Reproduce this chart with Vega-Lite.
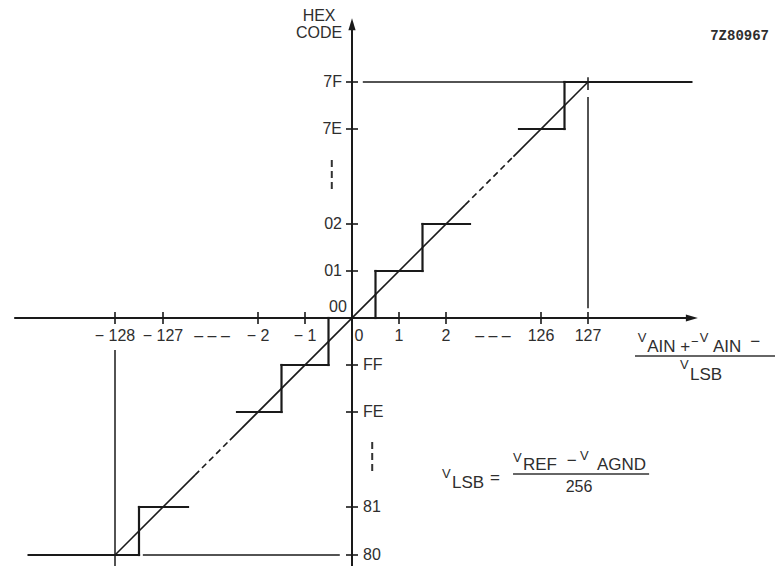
{
  "$schema": "https://vega.github.io/schema/vega-lite/v6.json",
  "width": 775,
  "height": 566,
  "padding": 0,
  "autosize": {"type": "none"},
  "background": "white",
  "config": {
    "view": {"stroke": null},
    "text": {"font": "Liberation Sans", "fontSize": 16, "fill": "#2e2e2e"}
  },
  "datasets": {
    "segs": [
      {"part": "axis", "x": -130.1, "y": 0, "x2": 129.2, "y2": 0},
      {"part": "axis", "x": 0, "y": -128.3, "x2": 0, "y2": 128.2},
      {"part": "ref", "x": 0.23, "y": 127, "x2": 129.2, "y2": 127},
      {"part": "ref", "x": 127, "y": 0.21, "x2": 127, "y2": 126.68},
      {"part": "ref", "x": 127, "y": 126.83, "x2": 127, "y2": 127.1},
      {"part": "ref", "x": -128, "y": -0.68, "x2": -128, "y2": -128.3},
      {"part": "ref", "x": -127.42, "y": -128, "x2": -0.26, "y2": -128},
      {"part": "step", "x": -129.8, "y": -128, "x2": -127.5, "y2": -128},
      {"part": "step", "x": -127.5, "y": -128, "x2": -127.5, "y2": -127},
      {"part": "step", "x": -127.5, "y": -127, "x2": -94.1, "y2": -127},
      {"part": "step", "x": -29.6, "y": -2, "x2": -1.5, "y2": -2},
      {"part": "step", "x": -1.5, "y": -2, "x2": -1.5, "y2": -1},
      {"part": "step", "x": -1.5, "y": -1, "x2": -0.5, "y2": -1},
      {"part": "step", "x": -0.5, "y": -1, "x2": -0.5, "y2": 0},
      {"part": "step", "x": -0.5, "y": 0, "x2": 0.5, "y2": 0},
      {"part": "step", "x": 0.5, "y": 0, "x2": 0.5, "y2": 1},
      {"part": "step", "x": 0.5, "y": 1, "x2": 1.5, "y2": 1},
      {"part": "step", "x": 1.5, "y": 1, "x2": 1.5, "y2": 2},
      {"part": "step", "x": 1.5, "y": 2, "x2": 33.3, "y2": 2},
      {"part": "step", "x": 97.3, "y": 126, "x2": 126.5, "y2": 126},
      {"part": "step", "x": 126.5, "y": 126, "x2": 126.5, "y2": 127},
      {"part": "step", "x": 126.5, "y": 127, "x2": 129.2, "y2": 127},
      {"part": "diag", "x": -128, "y": -128, "x2": -85, "y2": -85},
      {"part": "diagdash", "x": -85, "y": -85, "x2": -39, "y2": -39},
      {"part": "diag", "x": -39, "y": -39, "x2": 27, "y2": 27},
      {"part": "diagdash", "x": 27, "y": 27, "x2": 90, "y2": 90},
      {"part": "diag", "x": 90, "y": 90, "x2": 127, "y2": 127},
      {"part": "dots", "x": -0.43, "y": 85.5, "x2": -0.43, "y2": 43.8},
      {"part": "dots", "x": 0.43, "y": -41.5, "x2": 0.43, "y2": -84.9},
      {"part": "bar", "x": 128.0, "y": -0.81, "x2": 130.98, "y2": -0.81},
      {"part": "bar", "x": 89.5, "y": -83.6, "x2": 128.3, "y2": -83.6}
    ],
    "xticks": [
      {"x": -128, "y": 0}, {"x": -127, "y": 0}, {"x": -2, "y": 0}, {"x": -1, "y": 0},
      {"x": 1, "y": 0}, {"x": 2, "y": 0}, {"x": 126, "y": 0}, {"x": 127, "y": 0}
    ],
    "yticks": [
      {"x": 0, "y": 127}, {"x": 0, "y": 126}, {"x": 0, "y": 2}, {"x": 0, "y": 1},
      {"x": 0, "y": -1}, {"x": 0, "y": -2}, {"x": 0, "y": -127}, {"x": 0, "y": -128}
    ],
    "arrows": [
      {"x": 129.21, "y": 0, "dir": "right"},
      {"x": 0, "y": 128.23, "dir": "up"}
    ],
    "xlabels": [
      {"x": -128, "y": 0, "t": "− 128"},
      {"x": -127, "y": 0, "t": "− 127"},
      {"x": -62.5, "y": 0, "t": "– – –"},
      {"x": -2, "y": 0, "t": "− 2"},
      {"x": -1, "y": 0, "t": "− 1"},
      {"x": 0.15, "y": 0, "t": "0"},
      {"x": 1, "y": 0, "t": "1"},
      {"x": 2, "y": 0, "t": "2"},
      {"x": 63.3, "y": 0, "t": "– – –"},
      {"x": 126, "y": 0, "t": "126"},
      {"x": 127, "y": 0, "t": "127"}
    ],
    "ylabelsL": [
      {"x": 0, "y": 127, "t": "7F"},
      {"x": 0, "y": 126, "t": "7E"},
      {"x": 0, "y": 2, "t": "02"},
      {"x": 0, "y": 1, "t": "01"}
    ],
    "ylabelsR": [
      {"x": 0, "y": -1, "t": "FF"},
      {"x": 0, "y": -2, "t": "FE"},
      {"x": 0, "y": -127, "t": "81"},
      {"x": 0, "y": -128, "t": "80"}
    ],
    "notes": [
      {"x": 128.26, "y": -0.72, "t": "AIN +"},
      {"x": 129.66, "y": -0.72, "t": "AIN"},
      {"x": 130.45, "y": -0.61, "t": "−"},
      {"x": 129.17, "y": -1.32, "t": "LSB"},
      {"x": 9.83, "y": -102, "t": "LSB"},
      {"x": 59.4, "y": -95.4, "t": "="},
      {"x": 102.5, "y": -78.3, "t": "REF"},
      {"x": 126.55, "y": -73.1, "t": "−"},
      {"x": 127.19, "y": -78.3, "t": "AGND"}
    ],
    "vees": [
      {"x": 128.06, "y": -0.51, "t": "V"},
      {"x": 129.19, "y": -0.6, "t": "−"},
      {"x": 129.38, "y": -0.51, "t": "V"},
      {"x": 128.96, "y": -1.085, "t": "V"},
      {"x": 1.915, "y": -88.84, "t": "V"},
      {"x": 89.5, "y": -67.8, "t": "V"},
      {"x": 126.83, "y": -65.2, "t": "V"}
    ],
    "centred": [
      {"x": 126.81, "y": -107.3, "t": "256"},
      {"x": -0.7, "y": 128.3, "t": "HEX"},
      {"x": -0.7, "y": 127.94, "t": "CODE"}
    ],
    "origin": [
      {"x": -0.11, "y": 0.23, "t": "00"}
    ],
    "ref": [
      {"x": 129.6, "y": 127.89, "t": "7Z80967"}
    ]
  },
  "encoding": {
    "x": {
      "field": "x", "type": "quantitative", "axis": null,
      "scale": {"type": "linear", "domain": [-128, -127, -2, -1, 0, 1, 2, 126, 127],
        "range": [115, 163, 258, 305, 352, 399, 446, 541, 588], "nice": false, "zero": false}
    },
    "y": {
      "field": "y", "type": "quantitative", "axis": null,
      "scale": {"type": "linear", "domain": [-128, -127, -2, -1, 0, 1, 2, 126, 127],
        "range": [555, 507, 412, 365, 318, 271, 224, 129, 82], "nice": false, "zero": false}
    }
  },
  "layer": [
    {
      "data": {"name": "segs"},
      "transform": [{"filter": "datum.part == 'axis'"}],
      "mark": {"type": "rule", "color": "#1a1a1a", "strokeWidth": 2},
      "encoding": {"x2": {"field": "x2"}, "y2": {"field": "y2"}}
    },
    {
      "data": {"name": "segs"},
      "transform": [{"filter": "datum.part == 'ref'"}],
      "mark": {"type": "rule", "color": "#1a1a1a", "strokeWidth": 1.5},
      "encoding": {"x2": {"field": "x2"}, "y2": {"field": "y2"}}
    },
    {
      "data": {"name": "segs"},
      "transform": [{"filter": "datum.part == 'step'"}],
      "mark": {"type": "rule", "color": "#1a1a1a", "strokeWidth": 2.2, "strokeCap": "square"},
      "encoding": {"x2": {"field": "x2"}, "y2": {"field": "y2"}}
    },
    {
      "data": {"name": "segs"},
      "transform": [{"filter": "datum.part == 'diag'"}],
      "mark": {"type": "rule", "color": "#1a1a1a", "strokeWidth": 1.6},
      "encoding": {"x2": {"field": "x2"}, "y2": {"field": "y2"}}
    },
    {
      "data": {"name": "segs"},
      "transform": [{"filter": "datum.part == 'diagdash'"}],
      "mark": {"type": "rule", "color": "#1a1a1a", "strokeWidth": 1.6, "strokeDash": [6, 4]},
      "encoding": {"x2": {"field": "x2"}, "y2": {"field": "y2"}}
    },
    {
      "data": {"name": "segs"},
      "transform": [{"filter": "datum.part == 'dots'"}],
      "mark": {"type": "rule", "color": "#333333", "strokeWidth": 2, "strokeDash": [7, 4]},
      "encoding": {"x2": {"field": "x2"}, "y2": {"field": "y2"}}
    },
    {
      "data": {"name": "segs"},
      "transform": [{"filter": "datum.part == 'bar'"}],
      "mark": {"type": "rule", "color": "#333333", "strokeWidth": 1.6},
      "encoding": {"x2": {"field": "x2"}, "y2": {"field": "y2"}}
    },
    {
      "data": {"name": "xticks"},
      "mark": {"type": "tick", "orient": "vertical", "size": 12, "thickness": 1.6, "color": "#1a1a1a", "opacity": 1}
    },
    {
      "data": {"name": "yticks"},
      "mark": {"type": "tick", "orient": "horizontal", "size": 12, "thickness": 1.6, "color": "#1a1a1a", "opacity": 1}
    },
    {
      "data": {"name": "arrows"},
      "mark": {"type": "point", "filled": true, "size": 144, "color": "#1a1a1a", "opacity": 1},
      "encoding": {
        "shape": {"field": "dir", "type": "nominal", "legend": null,
          "scale": {"domain": ["right", "up"], "range": ["M1,0L-1,-0.6L-1,0.6Z", "M0,-1L-0.6,1L0.6,1Z"]}}
      }
    },
    {
      "data": {"name": "xlabels"},
      "mark": {"type": "text", "align": "center", "baseline": "middle", "dy": 18},
      "encoding": {"text": {"field": "t"}}
    },
    {
      "data": {"name": "ylabelsL"},
      "mark": {"type": "text", "align": "right", "baseline": "middle", "dx": -10},
      "encoding": {"text": {"field": "t"}}
    },
    {
      "data": {"name": "ylabelsR"},
      "mark": {"type": "text", "align": "left", "baseline": "middle", "dx": 11},
      "encoding": {"text": {"field": "t"}}
    },
    {
      "data": {"name": "notes"},
      "mark": {"type": "text", "align": "left", "baseline": "alphabetic", "fontSize": 17},
      "encoding": {"text": {"field": "t"}}
    },
    {
      "data": {"name": "vees"},
      "mark": {"type": "text", "align": "left", "baseline": "alphabetic", "fontSize": 13},
      "encoding": {"text": {"field": "t"}}
    },
    {
      "data": {"name": "centred"},
      "mark": {"type": "text", "align": "center", "baseline": "alphabetic"},
      "encoding": {"text": {"field": "t"}}
    },
    {
      "data": {"name": "origin"},
      "mark": {"type": "text", "align": "right", "baseline": "middle"},
      "encoding": {"text": {"field": "t"}}
    },
    {
      "data": {"name": "ref"},
      "mark": {"type": "text", "align": "left", "baseline": "alphabetic", "font": "Liberation Mono", "fontSize": 14, "fontWeight": "bold"},
      "encoding": {"text": {"field": "t"}}
    }
  ]
}
